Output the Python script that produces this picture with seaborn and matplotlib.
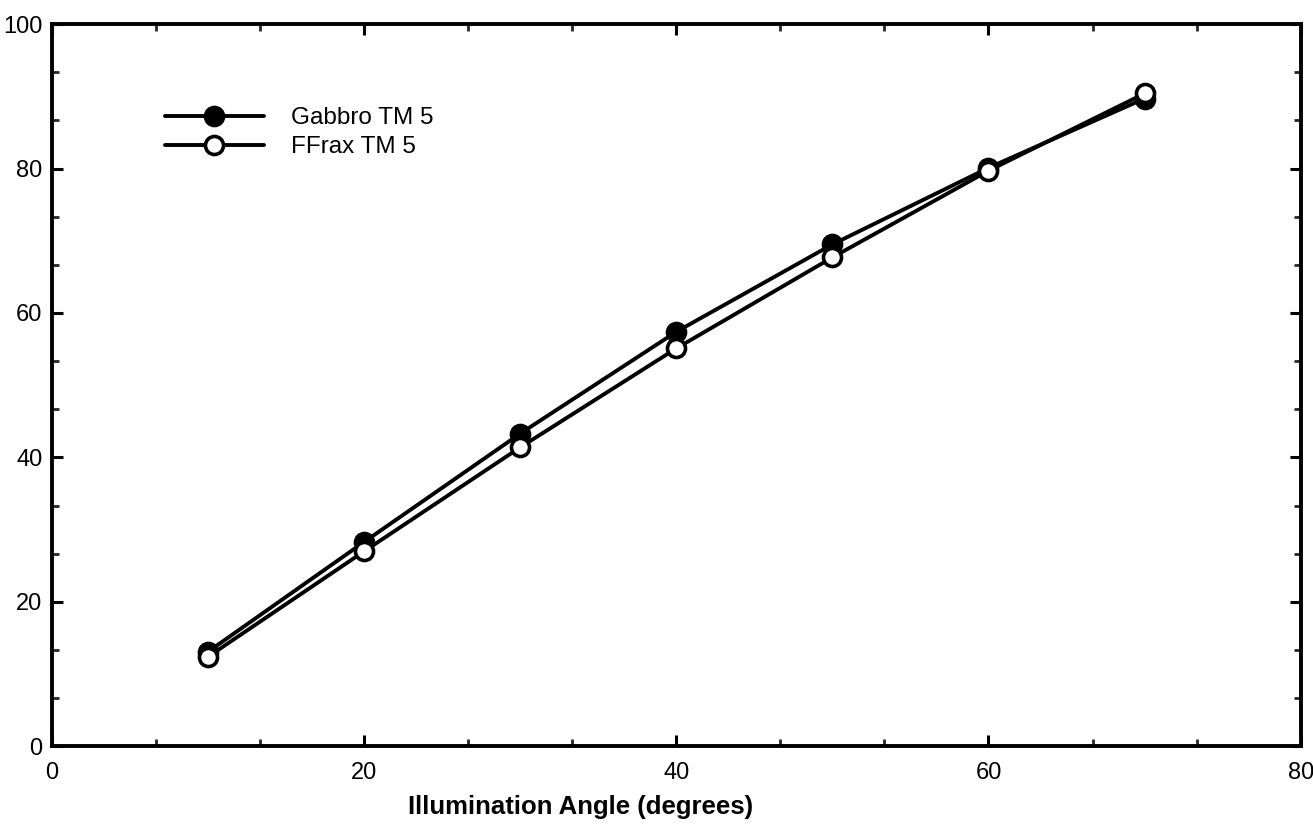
import numpy as np
import pandas as pd
import matplotlib
matplotlib.use("Agg")
import matplotlib.pyplot as plt
from matplotlib.ticker import MultipleLocator
import seaborn as sns

# Illumination angle (degrees) and normalised response for each surface
angles = [10, 20, 30, 40, 50, 60, 70]
gabbro_tm5 = [13.1, 28.3, 43.3, 57.4, 69.5, 80.1, 89.7]
ffrax_tm5 = [12.4, 27.0, 41.4, 55.1, 67.7, 79.7, 90.4]
series_names = ["Gabbro TM 5", "FFrax TM 5"]
x_ticks = [0, 20, 40, 60, 80]
y_ticks = [0, 20, 40, 60, 80, 100]

sns.set_theme(style="ticks")
plt.rcParams["font.family"] = ["Liberation Sans", "DejaVu Sans"]
plt.rcParams["text.color"] = "black"

df = pd.DataFrame({
    "angle": angles * 2,
    "value": gabbro_tm5 + ffrax_tm5,
    "series": [series_names[0]] * len(angles) + [series_names[1]] * len(angles),
})

fig = plt.figure(figsize=(13.13, 8.32), dpi=100)
ax = fig.add_axes([0.0396, 0.103, 0.951, 0.868])

face = {series_names[0]: "black", series_names[1]: "white"}
for name in series_names:
    sub = df[df["series"] == name]
    sns.lineplot(data=sub, x="angle", y="value", ax=ax, color="black",
                 linewidth=2.8, marker="o", markersize=13,
                 markerfacecolor=face[name], markeredgecolor="black",
                 markeredgewidth=2.6, label=name, zorder=3)

ax.set_xlim(0, 80)
ax.set_ylim(0, 100)
ax.set_xticks(x_ticks)
ax.set_yticks(y_ticks)
ax.xaxis.set_minor_locator(MultipleLocator(20 / 3))
ax.yaxis.set_minor_locator(MultipleLocator(20 / 3))

for side in ["left", "right", "top", "bottom"]:
    ax.spines[side].set_visible(True)
    ax.spines[side].set_linewidth(2.8)
    ax.spines[side].set_color("black")

ax.tick_params(which="major", direction="in", length=8, width=2.2,
               top=True, right=True, labelsize=17, colors="black")
ax.tick_params(which="minor", direction="in", length=5, width=2.0,
               top=True, right=True)
ax.tick_params(axis="x", which="major", pad=11)
ax.tick_params(axis="y", which="major", pad=7)

ax.set_xlabel("Illumination Angle (degrees)", fontsize=18.5, fontweight="bold",
              color="black")
ax.xaxis.set_label_coords(0.423, -0.067)
ax.set_ylabel("")

leg = ax.legend(loc="upper left", bbox_to_anchor=(0.118, 0.883),
                bbox_transform=fig.transFigure, frameon=False,
                fontsize=17.5, handlelength=4.1, handletextpad=1.1,
                labelspacing=0.3, borderaxespad=0, labelcolor="black")
for line in leg.get_lines():
    line.set_linewidth(2.8)

fig.savefig("out.png", dpi=100, facecolor="white")
